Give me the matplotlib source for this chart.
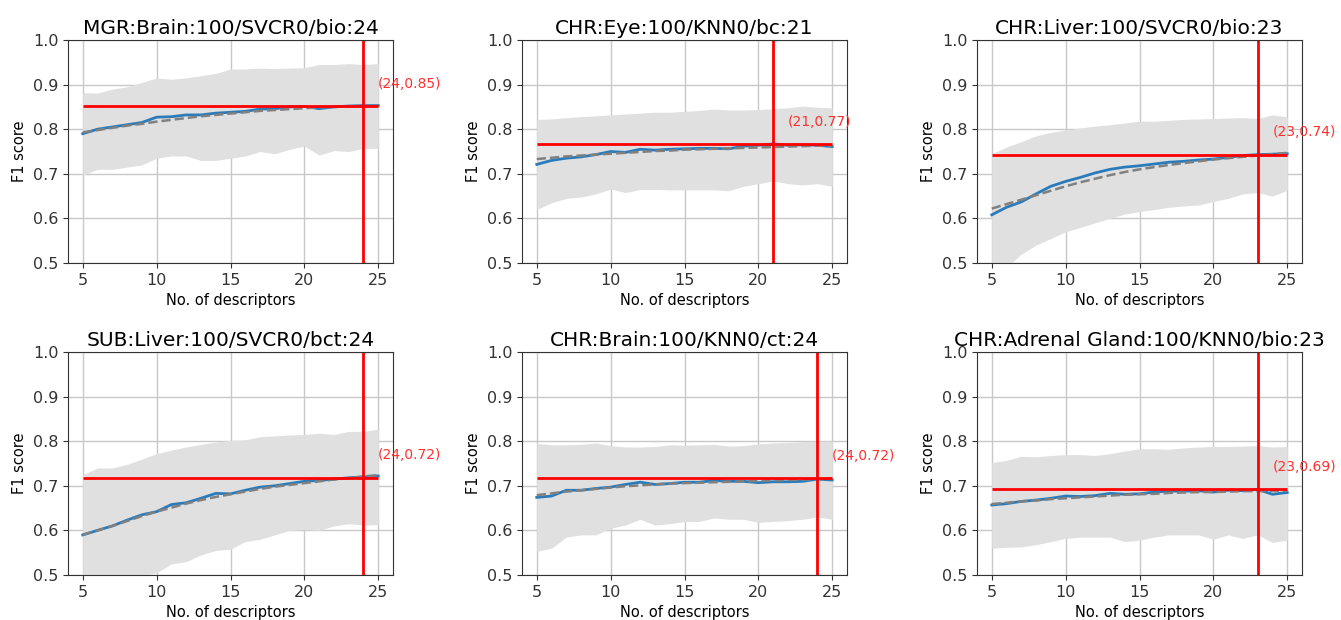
import numpy as np
import matplotlib
matplotlib.use('Agg')
import matplotlib.pyplot as plt

n_desc = list(range(5, 26))

titles = ['MGR:Brain:100/SVCR0/bio:24', 'CHR:Eye:100/KNN0/bc:21', 'CHR:Liver:100/SVCR0/bio:23',
          'SUB:Liver:100/SVCR0/bct:24', 'CHR:Brain:100/KNN0/ct:24', 'CHR:Adrenal Gland:100/KNN0/bio:23']
best_n = [24, 21, 23, 24, 24, 23]
best_score = [0.852, 0.767, 0.743, 0.718, 0.717, 0.693]

# MGR:Brain
mgr_brain_mean = [0.79, 0.80, 0.805, 0.81, 0.815, 0.827, 0.828, 0.832, 0.832, 0.836, 0.838,
                  0.840, 0.845, 0.846, 0.850, 0.851, 0.846, 0.850, 0.852, 0.853, 0.853]
mgr_brain_fit = [0.793, 0.798, 0.803, 0.808, 0.812, 0.817, 0.821, 0.825, 0.829, 0.832, 0.835,
                 0.838, 0.841, 0.843, 0.845, 0.847, 0.849, 0.850, 0.851, 0.852, 0.853]
mgr_brain_hi = [0.882, 0.881, 0.89, 0.895, 0.905, 0.915, 0.912, 0.915, 0.92, 0.925, 0.935,
                0.935, 0.937, 0.936, 0.937, 0.938, 0.945, 0.945, 0.947, 0.945, 0.947]
mgr_brain_lo = [0.697, 0.71, 0.71, 0.715, 0.72, 0.735, 0.74, 0.74, 0.73, 0.73, 0.735,
                0.74, 0.75, 0.745, 0.755, 0.762, 0.742, 0.752, 0.75, 0.757, 0.757]

# CHR:Eye
chr_eye_mean = [0.721, 0.73, 0.735, 0.738, 0.743, 0.75, 0.748, 0.755, 0.753, 0.755, 0.756,
                0.757, 0.757, 0.756, 0.762, 0.764, 0.767, 0.764, 0.765, 0.764, 0.761]
chr_eye_fit = [0.733, 0.736, 0.739, 0.741, 0.743, 0.745, 0.747, 0.749, 0.751, 0.752, 0.754,
               0.755, 0.756, 0.757, 0.758, 0.759, 0.760, 0.761, 0.762, 0.763, 0.763]
chr_eye_hi = [0.822, 0.823, 0.826, 0.828, 0.83, 0.832, 0.834, 0.836, 0.838, 0.838, 0.84,
              0.842, 0.845, 0.843, 0.843, 0.844, 0.846, 0.848, 0.852, 0.849, 0.848]
chr_eye_lo = [0.62, 0.635, 0.645, 0.648, 0.655, 0.666, 0.658, 0.665, 0.665, 0.664, 0.664,
              0.664, 0.664, 0.662, 0.672, 0.678, 0.684, 0.678, 0.675, 0.678, 0.672]

# CHR:Liver
chr_liver_mean = [0.608, 0.625, 0.637, 0.655, 0.672, 0.683, 0.692, 0.702, 0.71, 0.715, 0.718,
                  0.722, 0.726, 0.728, 0.731, 0.733, 0.737, 0.741, 0.743, 0.744, 0.745]
chr_liver_fit = [0.622, 0.632, 0.642, 0.652, 0.662, 0.672, 0.681, 0.689, 0.697, 0.704, 0.71,
                 0.715, 0.72, 0.724, 0.728, 0.732, 0.735, 0.738, 0.741, 0.744, 0.747]
chr_liver_hi = [0.745, 0.76, 0.772, 0.785, 0.793, 0.798, 0.803, 0.807, 0.81, 0.814, 0.818,
                0.818, 0.82, 0.822, 0.823, 0.824, 0.825, 0.826, 0.824, 0.832, 0.828]
chr_liver_lo = [0.48, 0.49, 0.52, 0.54, 0.555, 0.57, 0.58, 0.59, 0.6, 0.61, 0.615,
                0.62, 0.625, 0.628, 0.63, 0.638, 0.645, 0.655, 0.658, 0.65, 0.663]

# SUB:Liver
sub_liver_mean = [0.59, 0.60, 0.61, 0.623, 0.635, 0.642, 0.658, 0.662, 0.672, 0.683, 0.682,
                  0.69, 0.697, 0.70, 0.705, 0.71, 0.712, 0.715, 0.718, 0.72, 0.722]
sub_liver_fit = [0.59, 0.60, 0.61, 0.621, 0.632, 0.642, 0.651, 0.66, 0.668, 0.675, 0.681,
                 0.687, 0.693, 0.698, 0.702, 0.706, 0.71, 0.714, 0.717, 0.721, 0.724]
sub_liver_hi = [0.725, 0.74, 0.74, 0.748, 0.76, 0.772, 0.78, 0.787, 0.793, 0.798, 0.802,
                0.803, 0.81, 0.812, 0.814, 0.815, 0.818, 0.815, 0.822, 0.822, 0.827]
sub_liver_lo = [0.47, 0.48, 0.49, 0.495, 0.498, 0.505, 0.525, 0.53, 0.545, 0.555, 0.558,
                0.575, 0.58, 0.59, 0.60, 0.602, 0.60, 0.61, 0.615, 0.612, 0.613]

# CHR:Brain
chr_brain_mean = [0.674, 0.677, 0.69, 0.69, 0.694, 0.697, 0.703, 0.708, 0.703, 0.705, 0.708,
                  0.708, 0.712, 0.71, 0.71, 0.707, 0.709, 0.709, 0.71, 0.715, 0.713]
chr_brain_fit = [0.679, 0.683, 0.687, 0.69, 0.693, 0.696, 0.699, 0.701, 0.703, 0.705, 0.706,
                 0.707, 0.708, 0.709, 0.71, 0.711, 0.712, 0.713, 0.714, 0.715, 0.716]
chr_brain_hi = [0.795, 0.792, 0.792, 0.793, 0.796, 0.79, 0.787, 0.787, 0.788, 0.792, 0.791,
                0.792, 0.793, 0.789, 0.79, 0.794, 0.796, 0.797, 0.799, 0.80, 0.80]
chr_brain_lo = [0.553, 0.56, 0.585, 0.59, 0.59, 0.605, 0.612, 0.625, 0.612, 0.615, 0.62,
                0.62, 0.628, 0.625, 0.625, 0.618, 0.62, 0.622, 0.625, 0.63, 0.625]

# CHR:Adrenal Gland
chr_adrenal_mean = [0.657, 0.66, 0.665, 0.668, 0.672, 0.677, 0.676, 0.678, 0.683, 0.681, 0.682,
                    0.686, 0.688, 0.688, 0.689, 0.686, 0.69, 0.689, 0.692, 0.681, 0.685]
chr_adrenal_fit = [0.659, 0.662, 0.665, 0.667, 0.67, 0.672, 0.674, 0.676, 0.678, 0.68, 0.681,
                   0.682, 0.684, 0.685, 0.686, 0.686, 0.687, 0.688, 0.688, 0.689, 0.689]
chr_adrenal_hi = [0.752, 0.757, 0.766, 0.765, 0.768, 0.77, 0.77, 0.768, 0.772, 0.778, 0.783,
                  0.783, 0.782, 0.785, 0.787, 0.788, 0.788, 0.789, 0.79, 0.787, 0.788]
chr_adrenal_lo = [0.56, 0.562, 0.563, 0.568, 0.575, 0.582, 0.585, 0.585, 0.585, 0.575, 0.578,
                  0.585, 0.59, 0.59, 0.59, 0.58, 0.59, 0.582, 0.59, 0.573, 0.578]

means = [mgr_brain_mean, chr_eye_mean, chr_liver_mean, sub_liver_mean, chr_brain_mean, chr_adrenal_mean]
fits = [mgr_brain_fit, chr_eye_fit, chr_liver_fit, sub_liver_fit, chr_brain_fit, chr_adrenal_fit]
highs = [mgr_brain_hi, chr_eye_hi, chr_liver_hi, sub_liver_hi, chr_brain_hi, chr_adrenal_hi]
lows = [mgr_brain_lo, chr_eye_lo, chr_liver_lo, sub_liver_lo, chr_brain_lo, chr_adrenal_lo]

fig = plt.figure(figsize=(13.41, 6.2), dpi=100)

lefts = [68, 522, 977]
tops = [40, 352]
w_px, h_px = 325, 223

for i in range(6):
    r, c = divmod(i, 3)
    ax = fig.add_axes([lefts[c] / 1341, 1 - (tops[r] + h_px) / 620, w_px / 1341, h_px / 620])
    ax.fill_between(n_desc, lows[i], highs[i], color='#e0e0e0', lw=0)
    ax.plot(n_desc, means[i], color='#2b7bba', lw=2)
    ax.plot(n_desc, fits[i], color='gray', ls='--', lw=1.8)
    ax.hlines(best_score[i], n_desc[0], n_desc[-1], color='red', lw=2)
    ax.axvline(best_n[i], color='red', lw=2)
    ax.text(best_n[i] + 1, best_score[i] + 0.05, f'({best_n[i]},{best_score[i]:.2f})',
            color='#ff3030', fontsize=10, va='center', ha='left', clip_on=False)
    ax.set_xlim(4, 26)
    ax.set_ylim(0.5, 1.0)
    ax.set_xticks([5, 10, 15, 20, 25])
    ax.set_yticks([0.5, 0.6, 0.7, 0.8, 0.9, 1.0])
    ax.grid(True, color='#c8c8c8', lw=1)
    ax.set_axisbelow(True)
    ax.tick_params(labelsize=11.5, colors='#333333')
    ax.set_title(titles[i], fontsize=14.5, pad=4)
    ax.set_xlabel('No. of descriptors', fontsize=10.5)
    ax.set_ylabel('F1 score', fontsize=10.5)
    for s in ax.spines.values():
        s.set_color('#333333')

fig.savefig('out.png', dpi=100)
